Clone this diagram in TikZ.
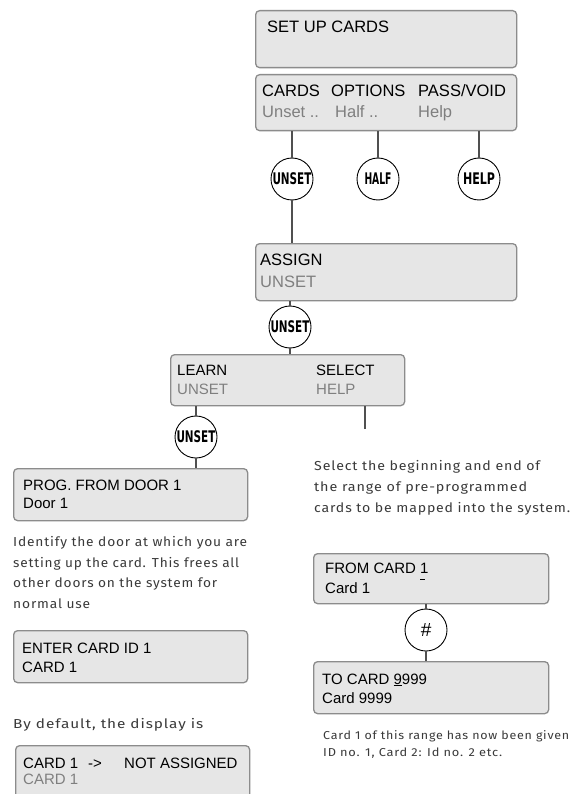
\documentclass[tikz,border=0pt]{standalone}
\usepackage{fontspec}
\usepackage{graphicx}
\setmainfont{Liberation Sans}
\newfontfamily\parafont[LetterSpace=6]{Fira Sans}
\newfontfamily\circfont{DejaVu Sans Condensed}
\usetikzlibrary{calc}
\definecolor{boxfill}{HTML}{E6E6E6}
\definecolor{boxborder}{HTML}{8C8C8C}
\definecolor{graytext}{HTML}{7F7F7F}
\definecolor{conncol}{HTML}{505050}
\definecolor{paratext}{HTML}{3A3A3A}
\newcommand\fitw[2]{\resizebox{#1}{\height}{#2}}
\tikzset{
  x=1pt, y=-1pt,
  dbox/.style={draw=boxborder, fill=boxfill, line width=1.3pt, rounded corners=4pt, anchor=north west, inner sep=0pt},
  btxt/.style={anchor=base west, inner sep=0pt, font=\fontsize{15}{18}\selectfont},
  gtxt/.style={btxt, text=graytext},
  btxtL/.style={anchor=base west, inner sep=0pt, font=\fontsize{16.5}{19}\selectfont},
  gtxtL/.style={btxtL, text=graytext},
  circ/.style={circle, draw=black, line width=0.9pt, fill=white, minimum size=42pt, inner sep=0pt, font=\circfont\bfseries\fontsize{16}{16}\selectfont},
  conn/.style={draw=conncol, line width=2pt},
  para/.style={anchor=base west, inner sep=0pt, font=\parafont\fontsize{13}{15}\selectfont, text=paratext}
}
\begin{document}
\begin{tikzpicture}
\clip (0,0) rectangle (574,794);
\fill[white] (0,0) rectangle (574,794);

% boxes
\node[dbox, minimum width=261pt, minimum height=57pt] (setup) at (255,10) {};
\node[dbox, minimum width=261pt, minimum height=56pt] (cards) at (255,74) {};
\node[dbox, minimum width=261pt, minimum height=57pt] (assign) at (255,243) {};
\node[dbox, minimum width=234pt, minimum height=51pt] (learn) at (170,354) {};
\node[dbox, minimum width=234pt, minimum height=52pt] (prog) at (13,468) {};
\node[dbox, minimum width=234pt, minimum height=52pt] (enter) at (13,630) {};
\node[dbox, minimum width=234pt, minimum height=70pt] (cardna) at (15,745) {};
\node[dbox, minimum width=235pt, minimum height=50pt] (from) at (313,553) {};
\node[dbox, minimum width=235pt, minimum height=52pt] (to) at (313,661) {};

% box texts
\node[btxtL] (t1) at ($(setup.north west)+(12,23)$) {SET UP CARDS};
\node[btxtL] (t2a) at ($(cards.north west)+(7,23)$) {CARDS};
\node[btxtL] (t2b) at ($(cards.north west)+(76,23)$) {OPTIONS};
\node[btxtL] (t2c) at ($(cards.north west)+(163,23)$) {PASS/VOID};
\node[gtxtL] (t2d) at ($(cards.north west)+(7,44)$) {Unset ..};
\node[gtxtL] (t2e) at ($(cards.north west)+(80,44)$) {Half ..};
\node[gtxtL] (t2f) at ($(cards.north west)+(163,44)$) {Help};
\node[btxtL] (t3a) at ($(assign.north west)+(5,22)$) {ASSIGN};
\node[gtxtL] (t3b) at ($(assign.north west)+(5,44)$) {UNSET};
\node[btxt] (t4a) at ($(learn.north west)+(7,21)$) {LEARN};
\node[gtxt] (t4b) at ($(learn.north west)+(7,40)$) {UNSET};
\node[btxt] (t4c) at ($(learn.north west)+(146,21)$) {SELECT};
\node[gtxt] (t4d) at ($(learn.north west)+(146,40)$) {HELP};
\node[btxt] (t5a) at ($(prog.north west)+(10,22)$) {PROG. FROM DOOR 1};
\node[btxt] (t5b) at ($(prog.north west)+(10,40)$) {Door 1};
\node[btxt] (t6a) at ($(enter.north west)+(9,23)$) {ENTER CARD ID 1};
\node[btxt] (t6b) at ($(enter.north west)+(9,42)$) {CARD 1};
\node[btxt] (t7a) at ($(cardna.north west)+(8,23)$) {CARD 1};
\node[btxt] (t7b) at ($(cardna.north west)+(73,23)$) {->};
\node[btxt] (t7c) at ($(cardna.north west)+(109,23)$) {NOT ASSIGNED};
\node[gtxt] (t7d) at ($(cardna.north west)+(8,39)$) {CARD 1};
\node[btxt] (t8a) at ($(from.north west)+(12,20)$) {FROM CARD 1};
\node[btxt] (t8b) at ($(from.north west)+(12,40)$) {Card 1};
\coordinate (cur1) at ($(from.north west)+(107,26)$);
\coordinate (cur2) at ($(from.north west)+(112,26)$);
\draw[line width=0.8pt] (cur1) -- (cur2);
\node[btxt] (t9a) at ($(to.north west)+(9,23)$) {TO CARD \underline{9}999};
\node[btxt] (t9b) at ($(to.north west)+(9,42)$) {Card 9999};

% circles
\node[circ] (u1) at (292,179) {\fitw{39pt}{UNSET}};
\node[circ] (hf) at (378,179) {\fitw{27pt}{HALF}};
\node[circ] (hp) at (479,179) {\fitw{32pt}{HELP}};
\node[circ] (u2) at (290,327) {\fitw{39pt}{UNSET}};
\node[circ] (u3) at (196,437) {\fitw{39pt}{UNSET}};
\node[circ, font=\fontsize{19}{19}\selectfont] (hash) at (426,630) {\textit{\#}};

% connectors
\draw[conn] (u1.north) -- (u1.north |- cards.south);
\draw[conn] (hf.north) -- (hf.north |- cards.south);
\draw[conn] (hp.north) -- (hp.north |- cards.south);
\draw[conn] (u1.south) -- (u1.south |- assign.north);
\draw[conn] (u2.north) -- (u2.north |- assign.south);
\draw[conn] (u2.south) -- (u2.south |- learn.north);
\draw[conn] (u3.north) -- (u3.north |- learn.south);
\draw[conn] (u3.south) -- (u3.south |- prog.north);
\coordinate (selend) at (365,429);
\draw[conn] (selend) -- (selend |- learn.south);
\draw[conn] (hash.north) -- (hash.north |- from.south);
\draw[conn] (hash.south) -- (hash.south |- to.north);

% paragraphs
\node[para] (p1a) at (13,546) {\fitw{234pt}{Identify the door at which you are}};
\node[para] (p1b) at (13,567) {\fitw{226pt}{setting up the card. This frees all}};
\node[para] (p1c) at (13,587) {\fitw{204pt}{other doors on the system for}};
\node[para] (p1d) at (13,608) {\fitw{77pt}{normal use}};
\node[para] (p2) at (13,728) {\fitw{190pt}{By default, the display is}};
\node[para] (p3a) at (314,470) {\fitw{226pt}{Select the beginning and end of}};
\node[para] (p3b) at (314,491) {\fitw{213pt}{the range of pre-programmed}};
\node[para] (p3c) at (314,512) {\fitw{256pt}{cards to be mapped into the system.}};
\node[para, font=\parafont\fontsize{11.5}{14}\selectfont] (p4a) at (323,739) {\fitw{246pt}{Card 1 of this range has now been given}};
\node[para, font=\parafont\fontsize{11.5}{14}\selectfont] (p4b) at (323,756) {\fitw{179pt}{ID no. 1, Card 2: Id no. 2 etc.}};
\end{tikzpicture}
\end{document}
